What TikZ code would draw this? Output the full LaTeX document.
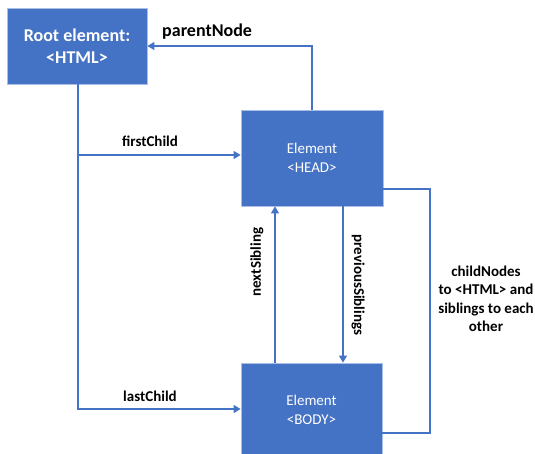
\documentclass[tikz,border=0pt]{standalone}
\usepackage{fontspec}
\setmainfont{Carlito}
\usetikzlibrary{arrows.meta}
\definecolor{boxblue}{HTML}{4472C4}
\definecolor{boxedge}{HTML}{A9BFE6}
\begin{document}
\begin{tikzpicture}[x=1pt,y=-1pt,
  elbox/.style={fill=boxblue,draw=boxedge,line width=0.8pt,text=white,align=center,font=\fontsize{15}{19}\selectfont,inner sep=0pt},
  conn/.style={draw=boxblue,line width=1.3pt},
  arr/.style={conn,-{Triangle[width=8pt,length=7pt]}},
  lbl/.style={font=\fontsize{15}{18.5}\selectfont\bfseries,text=black,inner sep=0pt}]
\useasboundingbox (0,0) rectangle (535,454);
\node[elbox,minimum width=140pt,minimum height=76pt,font=\fontsize{18}{22}\selectfont\bfseries] (root) at (77,46) {Root element:\\<HTML>};
\node[elbox,minimum width=142pt,minimum height=96pt] (head) at (312,158) {Element\\<HEAD>};
\node[elbox,minimum width=141pt,minimum height=94pt] (body) at (311.5,410) {Element\\<BODY>};
% parentNode
\coordinate (pn) at (312,46);
\draw[arr] (head.north) -- (pn) -- (root.east |- pn);
\node[lbl,anchor=south west,font=\fontsize{18}{22}\selectfont\bfseries] (lpn) at (162,40) {parentNode};
% first/last child
\coordinate (fc) at (78,155);
\coordinate (lc) at (78,409);
\draw[arr] (root.south -| fc) -- (fc) -- (head.west |- fc);
\draw[arr] (fc) -- (lc) -- (body.west |- lc);
\node[lbl,anchor=south] (lfc) at (150,147) {firstChild};
\node[lbl,anchor=south] (llc) at (150,402) {lastChild};
% siblings
\coordinate (ns) at (275,0);
\coordinate (ps) at (343,0);
\draw[arr] (body.north -| ns) -- (head.south -| ns);
\draw[arr] (head.south -| ps) -- (body.north -| ps);
\node[lbl,rotate=90] (lns) at (257,262) {nextSibling};
\node[lbl,rotate=-90] (lps) at (358,285) {previousSiblings};
% childNodes
\coordinate (c1) at (430,189);
\coordinate (c2) at (430,433);
\draw[conn] (head.east |- c1) -- (c1) -- (c2) -- (body.east |- c2);
\node[lbl,align=center] (lcn) at (486,299) {childNodes\\to <HTML> and\\siblings to each\\other};
\end{tikzpicture}
\end{document}
